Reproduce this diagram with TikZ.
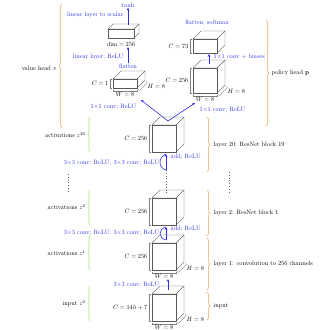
\documentclass[tikz,border=0pt]{standalone}
\usetikzlibrary{calc,arrows.meta,decorations.pathreplacing}
\definecolor{myblue}{RGB}{45,45,230}
\definecolor{myorange}{RGB}{238,165,90}
\definecolor{mygreen}{RGB}{160,228,130}
\tikzset{
  lab/.style={font=\fontsize{10}{12}\selectfont, scale=0.63, inner sep=0.8pt},
  blab/.style={lab, text=myblue},
  cubeline/.style={draw=black!65, line width=0.35pt, fill=white},
  dimline/.style={draw=black!50, line width=0.3pt},
  flow/.style={draw=myblue, line width=0.6pt, -{Stealth[length=2.8pt,width=2.6pt]}},
  skip/.style={draw=myblue, line width=0.6pt},
  obrace/.style={draw=myorange, line width=0.5pt, decorate, decoration={brace, amplitude=3pt}},
  gbrace/.style={draw=mygreen, line width=0.6pt, decorate, decoration={brace, amplitude=2pt}},
  dotcol/.style={draw=black!60, line width=0.8pt, dotted},
}
% name, x, ytop, w, h, dx, dy
\newcommand{\mkcube}[7]{%
  \coordinate (#1-tl) at (#2,#3);
  \coordinate (#1-tr) at ($(#2,#3)+(#4,0)$);
  \coordinate (#1-bl) at ($(#2,#3)+(0,#5)$);
  \coordinate (#1-br) at ($(#2,#3)+(#4,#5)$);
  \coordinate (#1-brd) at ($(#1-br)+(#6,#7)$);
  \filldraw[cubeline] (#1-tl) -- ($(#1-tl)+(#6,#7)$) -- ($(#1-tr)+(#6,#7)$) -- (#1-tr) -- cycle;
  \filldraw[cubeline] (#1-tr) -- ($(#1-tr)+(#6,#7)$) -- ($(#1-br)+(#6,#7)$) -- (#1-br) -- cycle;
  \filldraw[cubeline] (#1-tl) rectangle (#1-br);
  \coordinate (#1-top) at ($(#1-tl)!0.5!(#1-tr)+(#6/2,#7/2)$);
  \coordinate (#1-bot) at ($(#1-bl)!0.5!(#1-br)$);
}
\newcommand{\cdim}[2]{%
  \draw[dimline] ($(#1-tl)+(-1.5,0)$) -- ($(#1-tl)+(-3,0)$) -- ($(#1-bl)+(-3,0)$) -- ($(#1-bl)+(-1.5,0)$);
  \node[lab, anchor=east] (#1-C) at ($(#1-tl)!0.5!(#1-bl)+(-4,0)$) {#2};
}
\newcommand{\wdim}[2]{%
  \draw[dimline] ($(#1-bl)+(0,1.5)$) -- ($(#1-bl)+(0,3)$) -- ($(#1-br)+(0,3)$) -- ($(#1-br)+(0,1.5)$);
  \node[lab, anchor=north] (#1-W) at ($(#1-bl)!0.5!(#1-br)+(0,3.5)$) {#2};
}
\newcommand{\hdim}[2]{%
  \draw[dimline] ($(#1-br)+(1.2,1.2)$) -- ($(#1-br)+(2.4,2.4)$) -- ($(#1-brd)+(2.4,2.4)$) -- ($(#1-brd)+(1.2,1.2)$);
  \node[lab, anchor=west] (#1-H) at ($(#1-br)!0.5!(#1-brd)+(6,2)$) {#2};
}
\begin{document}
\begin{tikzpicture}[x=1pt,y=-1pt]
\useasboundingbox (0,0) rectangle (324,330);

% ---------------- main column ----------------
\mkcube{z20}{152}{125}{24}{27}{8}{-8}
\cdim{z20}{$C = 256$}
\mkcube{z2}{152}{198}{24}{27}{8}{-8}
\cdim{z2}{$C = 256$}
\mkcube{z1}{152}{243}{24}{27}{8}{-8}
\cdim{z1}{$C = 256$}
\wdim{z1}{$W = 8$}
\hdim{z1}{$H = 8$}
\mkcube{z0}{152}{294}{24}{27}{8}{-8}
\cdim{z0}{$C = 14h + 7$}
\wdim{z0}{$W = 8$}
\hdim{z0}{$H = 8$}

% arrows in the main column
\coordinate (a20s) at (166,170);
\coordinate (a20e) at (166,154);
\draw[skip] (a20s) .. controls (158,168) and (158,157) .. (a20e);
\draw[flow] (a20s) -- (a20e);
\node[blab, anchor=west] (add20) at (170,157) {add; ReLU};
\node[blab, anchor=east] (conv20) at (160,163) {$3{\times}3$ conv; ReLU; $3{\times}3$ conv; ReLU};
\draw[dotcol] (a20s) -- (a20s |- z2-top);

\coordinate (a2s) at (166,240);
\coordinate (a2e) at (166,227);
\draw[skip] (a2s) .. controls (158,238) and (158,229) .. (a2e);
\draw[flow] (a2s) -- (a2e);
\node[blab, anchor=west] (add2) at (170,229) {add; ReLU};
\node[blab, anchor=east] (conv2) at (160,233) {$3{\times}3$ conv; ReLU; $3{\times}3$ conv; ReLU};

\draw[flow] (z0-top) -- (z0-top |- z1-W.south);
\node[blab, anchor=east] (conv1) at (160,285) {$3{\times}3$ conv; ReLU};

% left labels with green braces
\draw[gbrace] (90,152) -- (90,117);
\node[lab, anchor=east] (lz20) at (86,135) {activations $z^{20}$};
\draw[gbrace] (90,225) -- (90,190);
\node[lab, anchor=east] (lz2) at (86,207) {activations $z^{2}$};
\draw[gbrace] (90,270) -- (90,235);
\node[lab, anchor=east] (lz1) at (86,253) {activations $z^{1}$};
\draw[gbrace] (90,321) -- (90,286);
\node[lab, anchor=east] (lz0) at (86,304) {input $z^{0}$};
\draw[dotcol] (68,174) -- (68,192);

% right labels with orange braces
\draw[obrace] (207,117) -- (207,172);
\node[lab, anchor=west] (ly20) at (213,145) {layer 20: ResNet block 19};
\draw[dotcol] (229,172) -- (229,192);
\draw[obrace] (207,190) -- (207,236);
\node[lab, anchor=west] (ly2) at (213,213) {layer 2: ResNet block 1};
\draw[obrace] (207,238) -- (207,290);
\node[lab, anchor=west] (ly1) at (213,264) {layer 1: convolution to 256 channels};
\draw[obrace] (207,292) -- (207,320);
\node[lab, anchor=west] (ly0) at (213,306) {input};

% ---------------- value head ----------------
\mkcube{vc}{113}{79}{24}{9}{8}{-8}
\cdim{vc}{$C = 1$}
\wdim{vc}{$W = 8$}
\hdim{vc}{$H = 8$}
\node[blab] (vflat) at (128,66) {flatten};
\mkcube{vd}{108}{29}{26}{9}{5}{-5}
\node[lab, anchor=north] (vdlab) at (121,41.5) {$\mathrm{dim} = 256$};
\draw[flow] (vflat.north) -- (vflat.north |- vdlab.south);
\node[blab, anchor=east] (vlin1) at (124,57) {linear layer; ReLU};
\node[blab] (vtanh) at (128,5) {tanh};
\draw[flow] ($(vtanh.south)+(0,17)$) -- (vtanh.south);
\node[blab, anchor=east] (vlin2) at (124,15) {linear layer to scalar};
\draw[obrace] (62,128) -- (62,4);
\node[lab, anchor=east] (vhead) at (57,68) {value head $v$};

% ---------------- policy head ----------------
\mkcube{pc}{193}{68}{24}{25}{8}{-8}
\cdim{pc}{$C = 256$}
\wdim{pc}{$W = 8$}
\hdim{pc}{$H = 8$}
\mkcube{pf}{193}{39}{24}{14}{8}{-8}
\cdim{pf}{$C = 73$}
\node[blab] (pflat) at (207,23) {flatten; softmax};
\draw[flow] (pc-top) -- ($(pc-top |- pf-bot)+(0,1)$);
\node[blab, anchor=west] (pconv) at (213,57) {$1{\times}1$ conv + biases};
\draw[obrace] (266,20) -- (266,126);
\node[lab, anchor=west] (phead) at (271,73) {policy head $\mathbf{p}$};

% ---------------- head connectors ----------------
\coordinate (vin) at (141,100);
\coordinate (pin) at (195,103);
\draw[flow] (z20-top) -- (vin);
\draw[flow] (z20-top) -- (pin);
\node[blab, anchor=east] (vconv) at (137,107) {$1{\times}1$ conv; ReLU};
\node[blab, anchor=west] (pconv2) at (199,109.5) {$1{\times}1$ conv; ReLU};
\end{tikzpicture}
\end{document}
